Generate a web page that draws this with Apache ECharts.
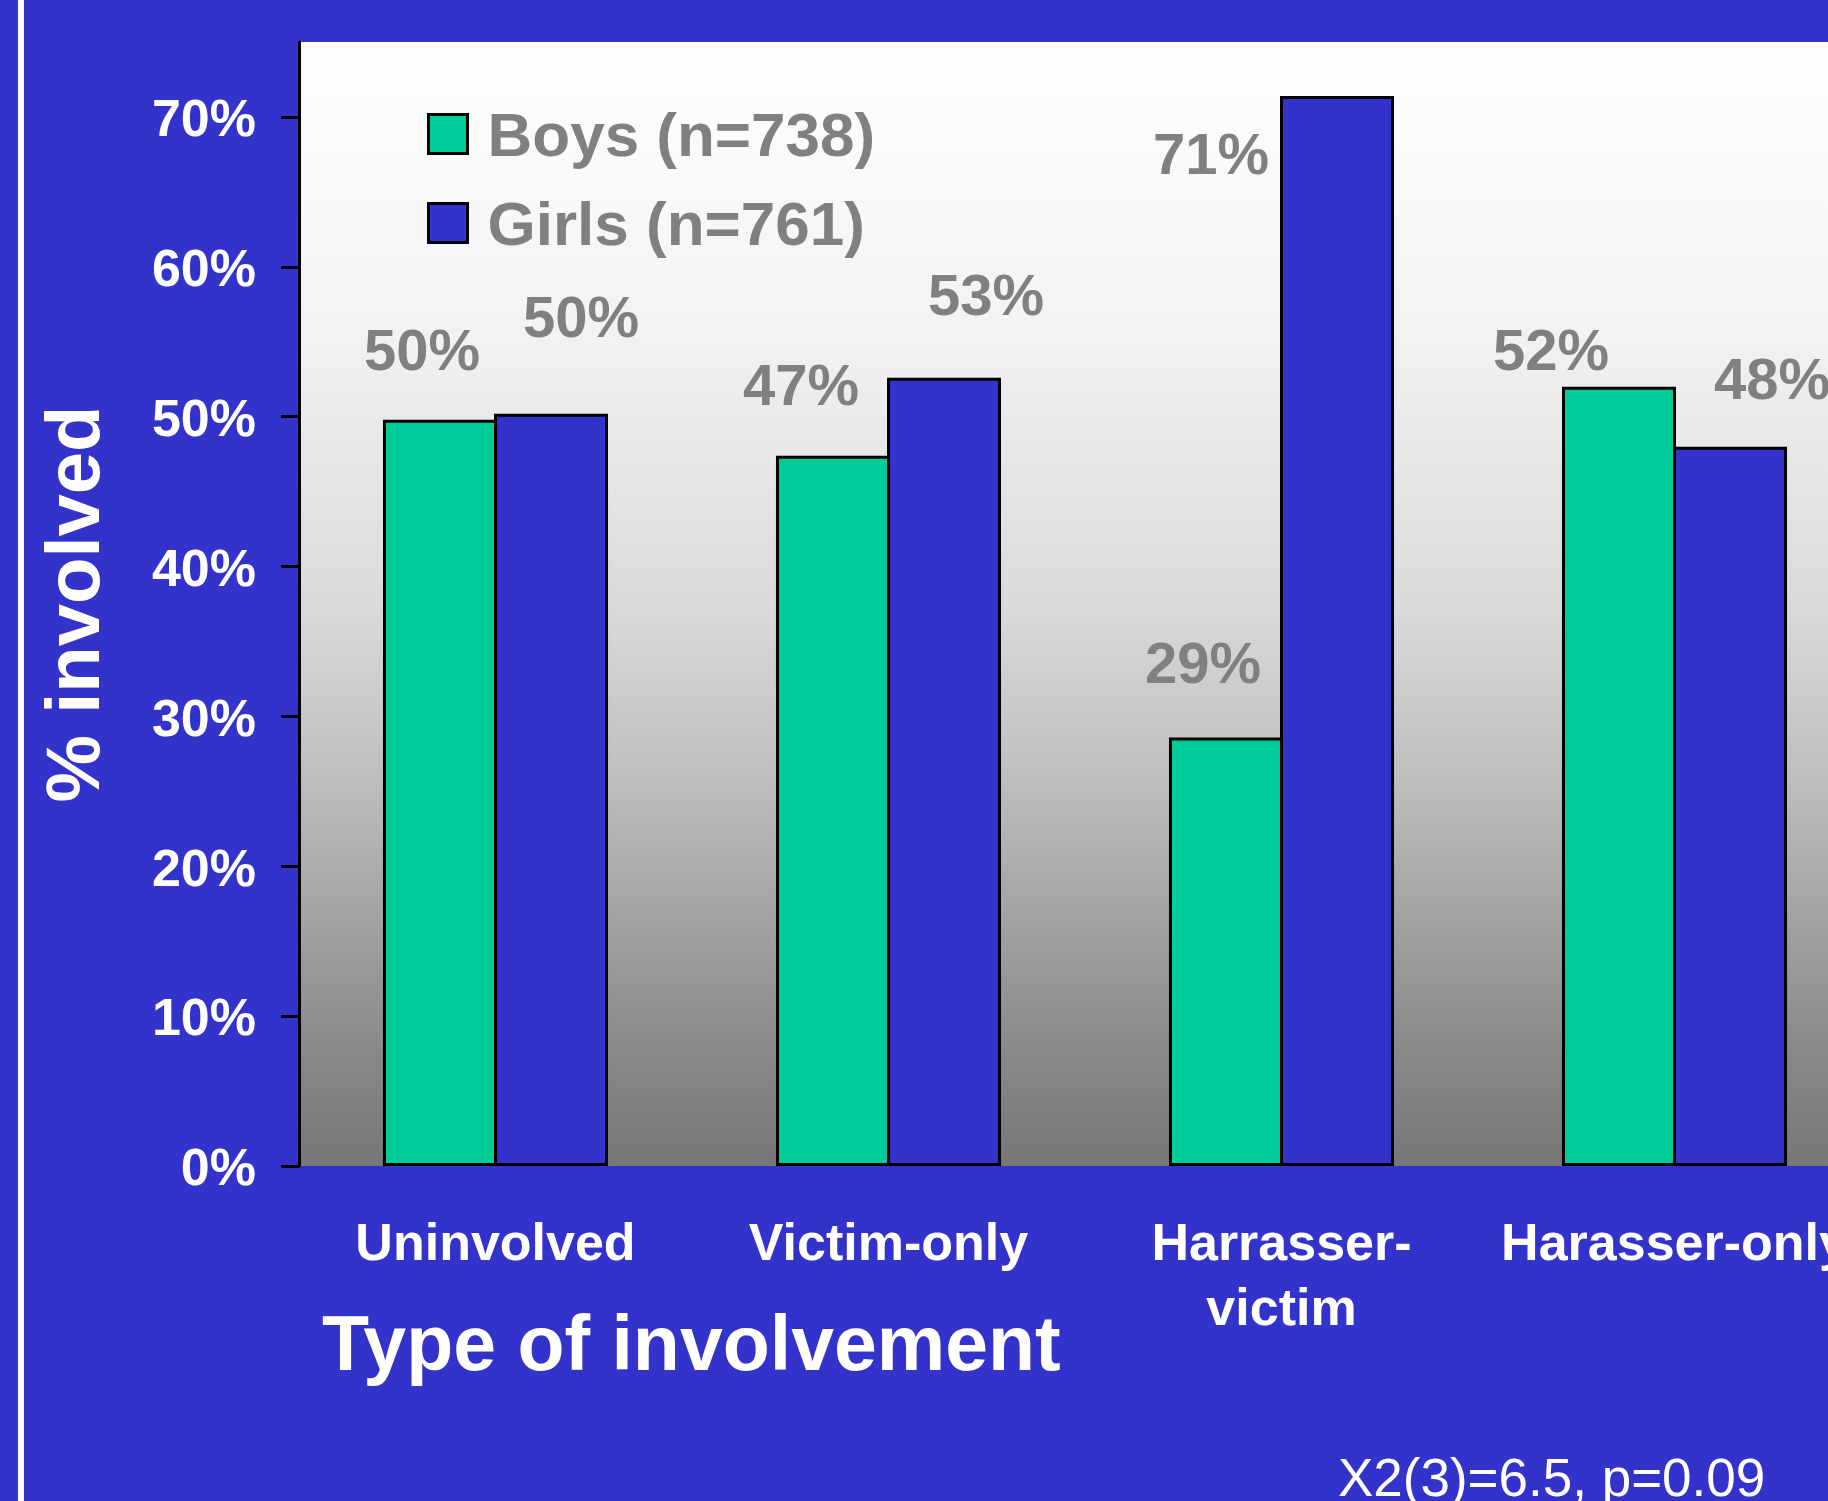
<!DOCTYPE html>
<html>
<head>
<meta charset="utf-8">
<style>
  html, body { margin: 0; padding: 0; background: #3333CC; }
  #chart { width: 1828px; height: 1501px; }
</style>
<script src="https://cdn.jsdelivr.net/npm/echarts@6/dist/echarts.min.js"></script>
</head>
<body>
<div id="chart"></div>
<script>
// ---- data ----
const categories = ['Uninvolved', 'Victim-only', 'Harrasser-\nvictim', 'Harasser-only'];
const seriesNames = ['Boys (n=738)', 'Girls (n=761)'];
const boysValues = [49.8, 47.4, 28.6, 52.0];
const girlsValues = [50.2, 52.6, 71.4, 48.0];
const yTicks = [0, 10, 20, 30, 40, 50, 60, 70];
const statText = 'X2(3)=6.5, p=0.09';
const xTitle = 'Type of involvement';
const yTitle = '% involved';

// ---- styling (label nudges, as in the original slide) ----
const boysLabelOffsets = [[-18, -37], [-32, -38], [-23, -41], [-68, -4]];
const girlsLabelOffsets = [[30, -64], [42, -50], [-126, 91], [42, -35]];

const FONT = '"Liberation Sans", Arial, Helvetica, sans-serif';
const BLUE = '#3333CC';
const GREEN = '#00CC99';

function buildData(values, offsets) {
  return values.map((v, i) => ({ value: v, label: { offset: offsets[i] } }));
}

const labelStyle = {
  show: true,
  position: 'top',
  distance: 0,
  color: '#808080',
  fontFamily: FONT,
  fontWeight: 'bold',
  fontSize: 58,
  lineHeight: 58,
  formatter: p => Math.round(p.value) + '%'
};

const chart = echarts.init(document.getElementById('chart'), null, { renderer: 'canvas' });
chart.setOption({
  backgroundColor: BLUE,
  animation: false,
  textStyle: { fontFamily: FONT },
  grid: {
    left: 299, top: 42, width: 1572, height: 1124,
    containLabel: false,
    outerBoundsMode: 'none',
    show: true,
    borderWidth: 0,
    backgroundColor: new echarts.graphic.LinearGradient(0, 0, 0, 1, [
      { offset: 0, color: '#ffffff' },
      { offset: 0.25, color: '#f3f3f3' },
      { offset: 0.5, color: '#dadada' },
      { offset: 0.65, color: '#bfbfbf' },
      { offset: 0.8, color: '#9e9e9e' },
      { offset: 0.9, color: '#888888' },
      { offset: 1, color: '#777777' }
    ])
  },
  legend: {
    show: true,
    orient: 'vertical',
    left: 427,
    top: 98,
    padding: 0,
    itemWidth: 39,
    itemHeight: 39,
    itemGap: 17,
    icon: 'rect',
    itemStyle: { borderColor: '#000', borderWidth: 3 },
    formatter: name => '{a|' + name + '}',
    textStyle: {
      color: '#808080',
      fontFamily: FONT,
      fontWeight: 'bold',
      fontSize: 62,
      lineHeight: 61,
      rich: {
        a: {
          color: '#808080',
          fontFamily: FONT,
          fontWeight: 'bold',
          fontSize: 62,
          lineHeight: 61,
          padding: [10, 0, 0, 15]
        }
      }
    },
    data: seriesNames
  },
  xAxis: {
    type: 'category',
    data: categories,
    axisLine: { show: false },
    axisTick: { show: false },
    axisLabel: {
      interval: 0,
      color: '#ffffff',
      fontFamily: FONT,
      fontWeight: 'bold',
      fontSize: 52,
      lineHeight: 65,
      margin: 47
    }
  },
  yAxis: {
    type: 'value',
    min: 0,
    max: 75,
    interval: 10,
    name: yTitle,
    nameLocation: 'middle',
    nameRotate: 90,
    nameGap: 183,
    nameTextStyle: {
      color: '#ffffff',
      fontFamily: FONT,
      fontWeight: 'bold',
      fontSize: 76
    },
    splitLine: { show: false },
    axisLine: { show: true, lineStyle: { color: '#000', width: 3 } },
    axisTick: {
      show: true, inside: false, length: 18,
      lineStyle: { color: '#000', width: 3 },
      customValues: yTicks
    },
    axisLabel: {
      color: '#ffffff',
      fontFamily: FONT,
      fontWeight: 'bold',
      fontSize: 52,
      margin: 43,
      customValues: yTicks,
      formatter: v => '{a|' + v + '%}',
      rich: {
        a: {
          color: '#ffffff',
          fontFamily: FONT,
          fontWeight: 'bold',
          fontSize: 52,
          lineHeight: 52,
          padding: [10, 0, 0, 0]
        }
      }
    }
  },
  series: [
    {
      name: seriesNames[0],
      type: 'bar',
      barWidth: 114,
      barGap: '-2.6%',
      itemStyle: { color: GREEN, borderColor: '#000', borderWidth: 3 },
      label: labelStyle,
      data: buildData(boysValues, boysLabelOffsets)
    },
    {
      name: seriesNames[1],
      type: 'bar',
      barWidth: 114,
      barGap: '-2.6%',
      itemStyle: { color: BLUE, borderColor: '#000', borderWidth: 3 },
      label: labelStyle,
      data: buildData(girlsValues, girlsLabelOffsets)
    }
  ],
  graphic: [
    {
      type: 'rect',
      shape: { x: 18, y: 0, width: 6, height: 1501 },
      style: { fill: '#ffffff' },
      silent: true
    },
    {
      type: 'text',
      x: 322,
      y: 1349,
      style: {
        text: xTitle,
        fill: '#ffffff',
        font: 'bold 77px ' + FONT,
        textAlign: 'left',
        textVerticalAlign: 'middle'
      }
    },
    {
      type: 'text',
      x: 1338,
      y: 1481,
      style: {
        text: statText,
        fill: '#ffffff',
        font: '53px ' + FONT,
        textAlign: 'left',
        textVerticalAlign: 'middle'
      }
    }
  ]
});
</script>
</body>
</html>
